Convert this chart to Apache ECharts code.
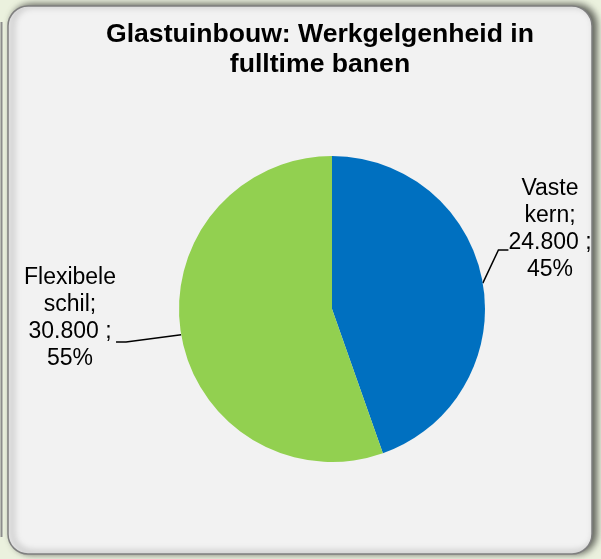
<!DOCTYPE html>
<html lang="nl">
<head>
    <meta charset="UTF-8">
    <title>Glastuinbouw</title>
    <script src="https://cdn.jsdelivr.net/npm/echarts@6/dist/echarts.min.js"></script>
    <style>
        html, body { margin: 0; padding: 0; }
        #chart { width: 601px; height: 559px; }
    </style>
</head>
<body>
    <div id="chart"></div>

    <script>
        var categories = ['Vaste kern', 'Flexibele schil'];
        var values = [24800, 30800];
        var colors = ['#0070c0', '#92d050'];
        var titleLines = ['Glastuinbouw: Werkgelgenheid in', 'fulltime banen'];

        var myChart = echarts.init(document.getElementById('chart'));

        // 24800 -> "24.800"
        function fmt(v) {
            return String(v).replace(/\B(?=(\d{3})+(?!\d))/g, '.');
        }

        var pieData = [];
        for (var i = 0; i < categories.length; i++) {
            pieData.push({name: categories[i], value: values[i], itemStyle: {color: colors[i]}});
        }

        // label box centres; an empty spacer line under the text pushes the
        // leader line attachment point down to the 3rd text line
        var labelPos = [[550, 250], [70, 342]];
        var spacer = ['sa', 'sb'];

        var option = {
            backgroundColor: '#ebf1de',
            animation: false,
            graphic: [
                {
                    type: 'line',
                    z: -1,
                    shape: {x1: 1.5, y1: 22, x2: 1.5, y2: 537},
                    style: {stroke: '#8c8c8c', lineWidth: 2}
                },
                {
                    type: 'rect',
                    z: -1,
                    shape: {x: 8, y: 6, width: 584, height: 548, r: 20},
                    style: {
                        fill: '#f2f2f2',
                        stroke: '#7f7f7f',
                        lineWidth: 1.5,
                        shadowColor: 'rgba(0,0,0,0.6)',
                        shadowBlur: 7,
                        shadowOffsetX: 4,
                        shadowOffsetY: -1
                    }
                }
            ],
            title: {
                text: titleLines.join('\n'),
                left: 315,
                top: 15,
                textAlign: 'center',
                textStyle: {
                    fontFamily: 'Liberation Sans',
                    fontSize: 26.6,
                    fontWeight: 'bold',
                    lineHeight: 30,
                    color: '#000'
                }
            },
            series: [{
                type: 'pie',
                center: [332, 309],
                radius: [0, 153],
                startAngle: 90,
                clockwise: true,
                data: pieData,
                label: {
                    show: true,
                    position: 'outside',
                    overflow: 'none',
                    fontFamily: 'Liberation Sans',
                    fontSize: 23,
                    lineHeight: 27,
                    color: '#000',
                    align: 'center',
                    formatter: function (p) {
                        var parts = p.name.split(' ');
                        return parts[0] + '\n' + parts[1] + ';\n' + fmt(p.value) + ' ;\n' + Math.round(p.percent) + '%' +
                            '\n{' + spacer[p.dataIndex] + '| }';
                    },
                    rich: {
                        sa: {fontSize: 10, lineHeight: 42},
                        sb: {fontSize: 10, lineHeight: 48}
                    }
                },
                labelLine: {
                    show: true,
                    length: 10,
                    length2: 10,
                    lineStyle: {color: '#000', width: 1.5}
                },
                labelLayout: function (params) {
                    var pos = labelPos[params.dataIndex];
                    return {x: pos[0], y: pos[1], align: 'center', verticalAlign: 'middle'};
                },
                emphasis: {disabled: true}
            }]
        };
        myChart.setOption(option);
    </script>
</body>
</html>
